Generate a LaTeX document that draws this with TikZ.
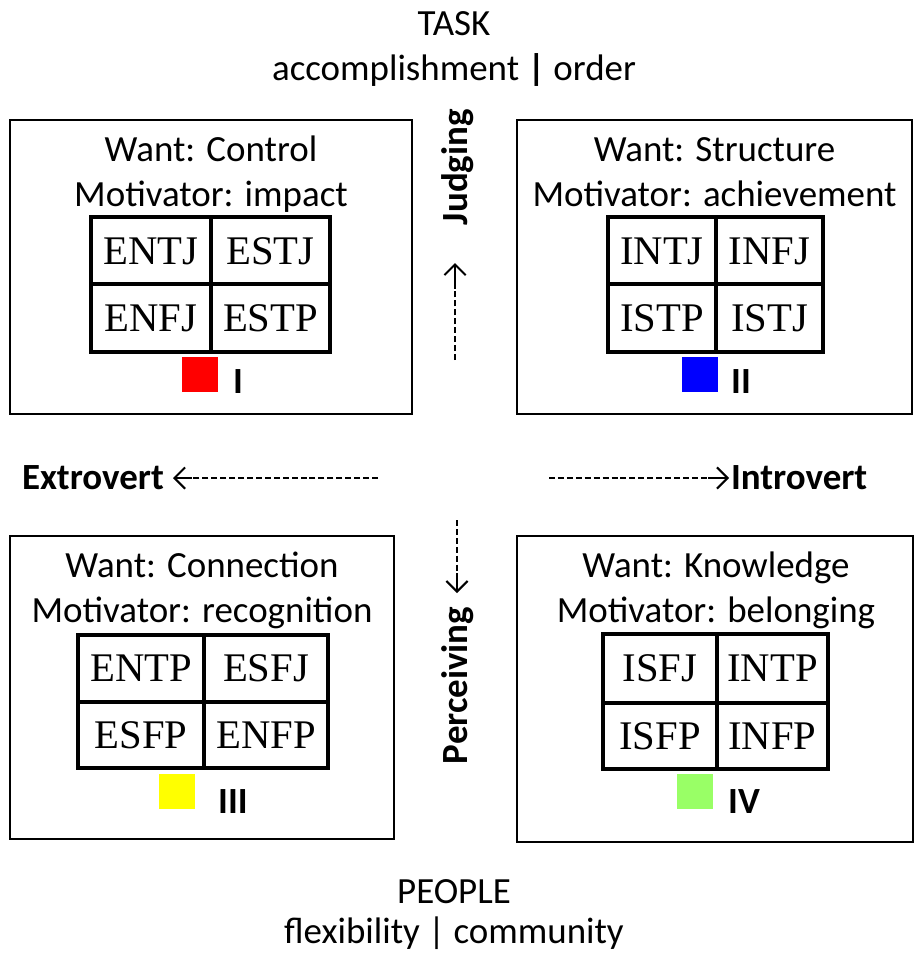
\documentclass[tikz,border=0pt]{standalone}
\usepackage{fontspec}
\setmainfont{Carlito}
\newfontfamily\gridfont{Liberation Serif}
\usetikzlibrary{arrows.meta}
\definecolor{qred}{HTML}{FF0000}
\definecolor{qblue}{HTML}{0000FF}
\definecolor{qyellow}{HTML}{FFFF00}
\definecolor{qgreen}{HTML}{99FF66}
\begin{document}
\begin{tikzpicture}[x=0.75pt,y=-0.75pt,
  every node/.style={inner sep=0pt, outer sep=0pt},
  lbl/.style={font=\fontsize{27.7}{33}\selectfont, anchor=base},
  blbl/.style={font=\fontsize{27.7}{33}\selectfont\bfseries},
  cell/.style={font=\gridfont\fontsize{30.5}{36}\selectfont},
  quadbox/.style={draw=black, line width=1.6pt},
  gridln/.style={draw=black, line width=2.4pt},
  dashln/.style={line width=1.6pt, dash pattern=on 4.5pt off 2.2pt},
  tipln/.style={line width=1.5pt, -{Straight Barb[length=8pt,width=16pt,line width=1.5pt]}},
]
\useasboundingbox (0,0) rectangle (915,957);

% titles
\node[lbl] (task) at (454,35) {TASK};
\node[lbl] (task2) at (454,80) {accomplishment \textbf{|} order};
\node[lbl] (people) at (454,903) {PEOPLE};
\node[lbl] (people2) at (454,943) {flexibility | community};

% ---------- Quadrant I ----------
\draw[quadbox] (10,120) rectangle (412,414);
\node[lbl] (w1) at (211,161) {Want: Control};
\node[lbl] (m1) at (211,206) {Motivator: impact};
\draw[gridln] (91,217) rectangle (330,352);
\draw[gridln] (211,217) -- (211,352) (91,284) -- (330,284);
\node[cell] (c11) at (151,251) {ENTJ};
\node[cell] (c12) at (270.5,251) {ESTJ};
\node[cell] (c13) at (151,318) {ENFJ};
\node[cell] (c14) at (270.5,318) {ESTP};
\fill[qred] (182,357) rectangle (218,392);
\node[blbl, anchor=base] (n1) at (238,393) {I};

% ---------- Quadrant II ----------
\draw[quadbox] (517,120) rectangle (912,414);
\node[lbl] (w2) at (714.5,161) {Want: Structure};
\node[lbl] (m2) at (714.5,206) {Motivator: achievement};
\draw[gridln] (608,217) rectangle (823,352);
\draw[gridln] (716,217) -- (716,352) (608,284) -- (823,284);
\node[cell] (c21) at (662,251) {INTJ};
\node[cell] (c22) at (769.5,251) {INFJ};
\node[cell] (c23) at (662,318) {ISTP};
\node[cell] (c24) at (769.5,318) {ISTJ};
\fill[qblue] (682,357) rectangle (718,392);
\node[blbl, anchor=base] (n2) at (741,393) {II};

% ---------- Quadrant III ----------
\draw[quadbox] (10,536) rectangle (394,839);
\node[lbl] (w3) at (202,577) {Want: Connection};
\node[lbl] (m3) at (202,622) {Motivator: recognition};
\draw[gridln] (78,635) rectangle (328,768);
\draw[gridln] (204,635) -- (204,768) (78,702) -- (328,702);
\node[cell] (c31) at (141,668.5) {ENTP};
\node[cell] (c32) at (266,668.5) {ESFJ};
\node[cell] (c33) at (141,735) {ESFP};
\node[cell] (c34) at (266,735) {ENFP};
\fill[qyellow] (159,774) rectangle (195,809);
\node[blbl, anchor=base] (n3) at (233,813) {III};

% ---------- Quadrant IV ----------
\draw[quadbox] (517,536) rectangle (913,842);
\node[lbl] (w4) at (716,577) {Want: Knowledge};
\node[lbl] (m4) at (716,622) {Motivator: belonging};
\draw[gridln] (603,634) rectangle (828,769);
\draw[gridln] (717,634) -- (717,769) (603,703) -- (828,703);
\node[cell] (c41) at (660,668.5) {ISFJ};
\node[cell] (c42) at (772.5,668.5) {INTP};
\node[cell] (c43) at (660,736) {ISFP};
\node[cell] (c44) at (772.5,736) {INFP};
\fill[qgreen] (677,774) rectangle (713,809);
\node[blbl, anchor=base] (n4) at (744,813) {IV};

% ---------- axes ----------
\node[blbl, anchor=base west] (ext) at (22,489) {Extrovert};
\coordinate (exA) at (378,478);
\coordinate (exB) at (192,478);
\coordinate (exC) at (173,478);
\draw[dashln] (exA) -- (exB);
\draw[tipln] (exB) -- (exC);

\node[blbl, anchor=base west] (intro) at (731,489) {Introvert};
\coordinate (inA) at (549,478);
\coordinate (inB) at (708,478);
\coordinate (inC) at (729,478);
\draw[dashln] (inA) -- (inB);
\draw[tipln] (inB) -- (inC);

\node[blbl, rotate=90, anchor=base west] (judg) at (467,225) {Judging};
\coordinate (juA) at (455,360);
\coordinate (juB) at (455,283);
\coordinate (juC) at (455,263);
\draw[dashln] (juA) -- (juB);
\draw[tipln] (juB) -- (juC);

\node[blbl, rotate=90, anchor=base west] (perc) at (467,764) {Perceiving};
\coordinate (peA) at (457,520);
\coordinate (peB) at (457,573);
\coordinate (peC) at (457,593);
\draw[dashln] (peA) -- (peB);
\draw[tipln] (peB) -- (peC);
\end{tikzpicture}
\end{document}
